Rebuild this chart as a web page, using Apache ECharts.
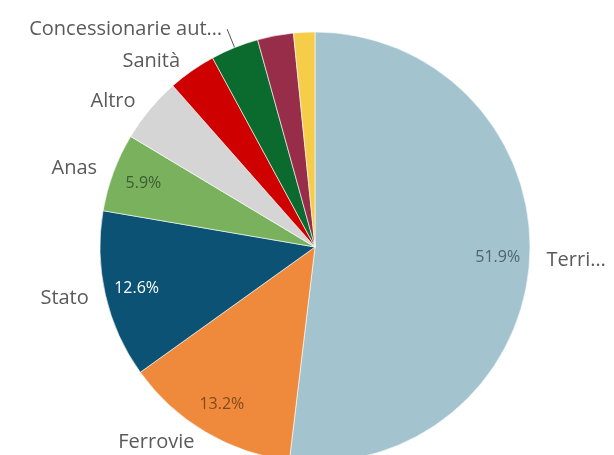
<!DOCTYPE html>
<html>
<head>
<meta charset="utf-8">
<script src="https://cdn.jsdelivr.net/npm/echarts@6/dist/echarts.min.js"></script>
<style>
  html, body { margin: 0; padding: 0; background: #fff; }
  #chart { width: 614px; height: 455px; }
</style>
</head>
<body>
<div id="chart"></div>
<script>
// slices, clockwise from 12 o'clock
const names = ['Territorio', 'Ferrovie', 'Stato', 'Anas', 'Altro', 'Sanità',
  'Concessionarie autostradali', 'Altri enti', 'Altri concessionari']
const values = [51.9, 13.2, 12.6, 5.9, 4.9, 3.6, 3.6, 2.7, 1.6]
const showName = [true, true, true, true, true, true, true, false, false]

const palette = ['#a3c4cf', '#ef8a3c', '#0c5274', '#79b15d', '#d5d5d5',
  '#cf0000', '#0b6a2d', '#982d49', '#f6cd48']
const pctColors = ['#4b6470', '#84491c', '#ffffff', '#3d5c32', '#555', '#fff', '#fff', '#fff', '#555']

const chart = echarts.init(document.getElementById('chart'))

const font = '"Open Sans", sans-serif'

const outerData = names.map((n, i) => {
  const d = {
    name: n,
    value: values[i],
    itemStyle: { color: palette[i] },
    label: { show: showName[i] }
  }
  if (n === 'Territorio') {
    d.label.width = 66
    d.label.overflow = 'truncate'
    d.label.ellipsis = '…'
  }
  if (n === 'Concessionarie autostradali') {
    d.label.width = 200
    d.label.overflow = 'truncate'
    d.label.ellipsis = '…'
    d.labelLine = { show: true, length: 20, length2: 0 }
  }
  return d
})

const innerData = names.map((n, i) => ({
  name: n,
  value: values[i],
  label: { color: pctColors[i] }
}))

chart.setOption({
  animation: false,
  series: [
    {
      type: 'pie',
      center: [315, 247],
      radius: 215,
      startAngle: 90,
      avoidLabelOverlap: false,
      itemStyle: { borderColor: 'rgba(255,255,255,0.6)', borderWidth: 1 },
      label: {
        position: 'outside',
        color: '#5a5a5a',
        fontFamily: font,
        fontSize: 20,
        formatter: '{b}'
      },
      labelLine: { show: false, length: 12, length2: 0, lineStyle: { color: '#555', width: 1 } },
      emphasis: { disabled: true },
      data: outerData
    },
    {
      type: 'pie',
      center: [315, 247],
      radius: [145, 215],
      startAngle: 90,
      silent: true,
      itemStyle: { color: 'transparent' },
      label: {
        position: 'inside',
        fontFamily: font,
        fontSize: 16,
        formatter: p => (p.value >= 5 ? p.value.toFixed(1) + '%' : '')
      },
      labelLine: { show: false },
      data: innerData
    }
  ]
})
</script>
</body>
</html>
